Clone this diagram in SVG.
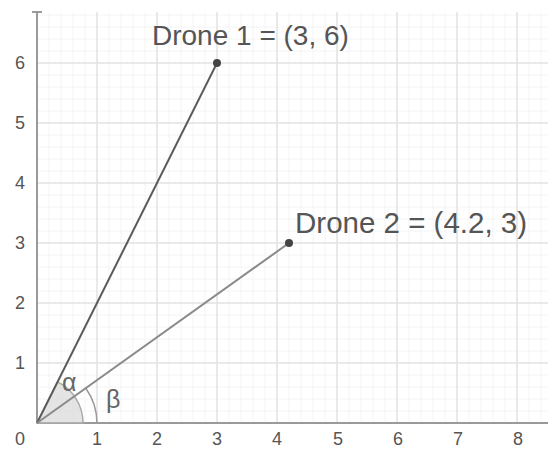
<svg xmlns="http://www.w3.org/2000/svg" width="548" height="449" viewBox="0 0 548 449">
<style>
.minor{stroke:#f4f4f4;stroke-width:1}
.major{stroke:#e2e2e2;stroke-width:1.5}
.axis{stroke:#9a9a9a;stroke-width:2}
.tick{font-family:"Liberation Sans",Arial,sans-serif;font-size:18px;fill:#555;text-anchor:middle}
.lbl{font-family:"Liberation Sans",Arial,sans-serif;font-size:28px;fill:#555}
.greek{font-family:"Liberation Sans",Arial,sans-serif;font-size:25px;fill:#666}
</style>
<rect width="548" height="449" fill="#fff"/>
<g id="grid">
<g class="minor">
<path d="M49 12V423M61 12V423M73 12V423M85 12V423M109 12V423M121 12V423M133 12V423M145 12V423M169 12V423M181 12V423M193 12V423M205 12V423M229 12V423M241 12V423M253 12V423M265 12V423M289 12V423M301 12V423M313 12V423M325 12V423M349 12V423M361 12V423M373 12V423M385 12V423M409 12V423M421 12V423M433 12V423M445 12V423M469 12V423M481 12V423M493 12V423M505 12V423M529 12V423M541 12V423"/>
<path d="M37 411H548M37 399H548M37 387H548M37 375H548M37 351H548M37 339H548M37 327H548M37 315H548M37 291H548M37 279H548M37 267H548M37 255H548M37 231H548M37 219H548M37 207H548M37 195H548M37 171H548M37 159H548M37 147H548M37 135H548M37 111H548M37 99H548M37 87H548M37 75H548M37 51H548M37 39H548M37 27H548M37 15H548"/>
</g>
<g class="major">
<path d="M97 12V423M157 12V423M217 12V423M277 12V423M337 12V423M397 12V423M457 12V423M517 12V423"/>
<path d="M37 363H548M37 303H548M37 243H548M37 183H548M37 123H548M37 63H548"/>
</g>
</g>
<g id="axes">
<path class="axis" d="M37 423H548M37 423V12M32 12H42"/>
<text class="tick" x="20" y="445">0</text>
<text class="tick" x="97" y="445">1</text>
<text class="tick" x="157" y="445">2</text>
<text class="tick" x="217" y="445">3</text>
<text class="tick" x="277" y="445">4</text>
<text class="tick" x="338" y="445">5</text>
<text class="tick" x="398" y="445">6</text>
<text class="tick" x="458" y="445">7</text>
<text class="tick" x="518" y="445">8</text>
<text class="tick" x="20" y="369">1</text>
<text class="tick" x="20" y="309">2</text>
<text class="tick" x="20" y="249">3</text>
<text class="tick" x="20" y="189">4</text>
<text class="tick" x="20" y="129">5</text>
<text class="tick" x="20" y="69">6</text>
</g>
<g id="angles">
<path d="M37 423L83 423A46 46 0 0 0 57.6 381.9Z" fill="#d8d8d8" fill-opacity="0.7" stroke="#aaa" stroke-width="1.5"/>
<path d="M97 423A60 60 0 0 0 85.8 388.2" fill="none" stroke="#999" stroke-width="1.5"/>
<text class="greek" x="62" y="391">α</text>
<text class="greek" x="106" y="408">β</text>
</g>
<g id="connectors">
<line x1="37" y1="423" x2="217" y2="63" stroke="#5a5a5a" stroke-width="2"/>
<line x1="37" y1="423" x2="289" y2="243" stroke="#8a8a8a" stroke-width="2"/>
</g>
<g id="drone1">
<circle cx="217" cy="63" r="4" fill="#444"/>
<text class="lbl" x="152" y="45">Drone 1 = (3, 6)</text>
</g>
<g id="drone2">
<circle cx="289" cy="243" r="4" fill="#444"/>
<text class="lbl" x="295" y="233" style="font-size:29.5px">Drone 2 = (4.2, 3)</text>
</g>
</svg>
